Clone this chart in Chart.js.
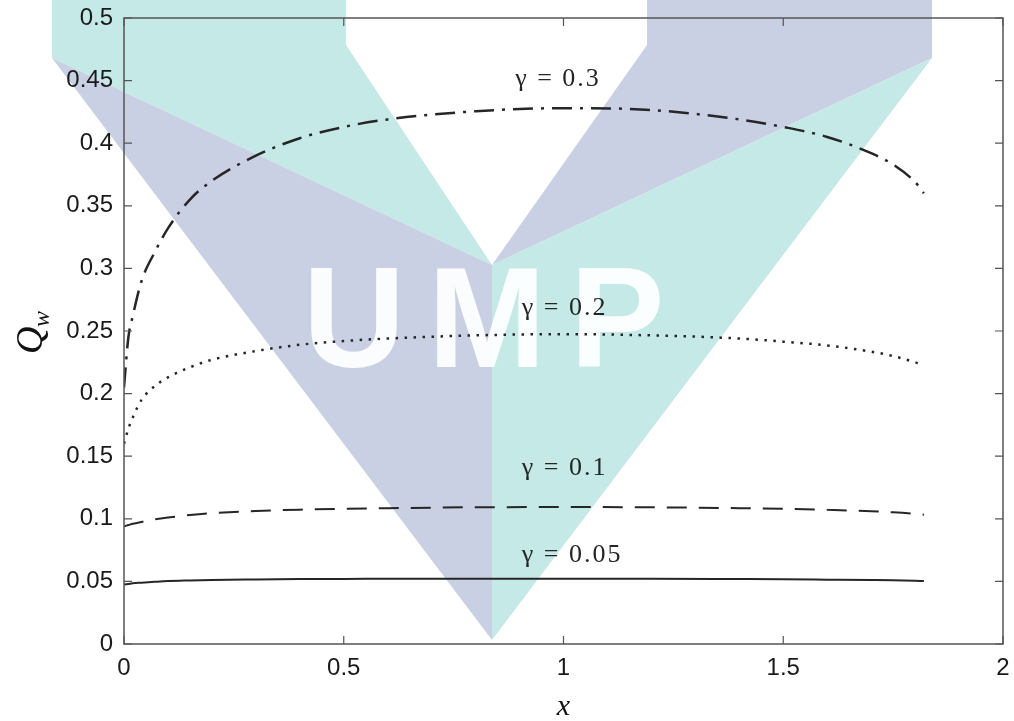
<!DOCTYPE html>
<html>
<head>
<meta charset="utf-8">
<script src="https://cdn.jsdelivr.net/npm/chart.js@4"></script>
<style>
  html, body { margin: 0; padding: 0; background: #fff; }
  #wrap { width: 1014px; height: 721px; }
</style>
</head>
<body>
<div id="wrap"><canvas id="c" width="1014" height="721"></canvas></div>
<script>
// x positions along the channel (shared by all curves)
const xs = [0, 0.01, 0.02, 0.04, 0.07, 0.1, 0.15, 0.2, 0.3, 0.4, 0.5, 0.6, 0.8, 1.0, 1.2, 1.4, 1.5, 1.6, 1.7, 1.75, 1.8, 1.82];

// Q_w for each gamma
const q030 = [0.205, 0.245, 0.262, 0.290, 0.313, 0.332, 0.355, 0.370, 0.390, 0.404, 0.413, 0.419, 0.4255, 0.428, 0.4265, 0.419, 0.413, 0.405, 0.392, 0.383, 0.369, 0.360];
const q020 = [0.160, 0.172, 0.181, 0.195, 0.206, 0.213, 0.221, 0.227, 0.234, 0.239, 0.242, 0.244, 0.2465, 0.2475, 0.2465, 0.244, 0.2415, 0.2385, 0.2335, 0.230, 0.225, 0.2225];
const q010 = [0.094, 0.095, 0.096, 0.0975, 0.0995, 0.101, 0.103, 0.1045, 0.1062, 0.1073, 0.108, 0.1085, 0.1092, 0.1094, 0.1092, 0.1085, 0.108, 0.1072, 0.106, 0.1052, 0.104, 0.1033];
const q005 = [0.0475, 0.048, 0.0485, 0.049, 0.0497, 0.0503, 0.0508, 0.0512, 0.0516, 0.0519, 0.052, 0.0521, 0.0522, 0.0522, 0.0522, 0.0519, 0.0517, 0.0514, 0.0511, 0.0509, 0.0505, 0.0503];

const gammaLabels = ['γ = 0.3', 'γ = 0.2', 'γ = 0.1', 'γ = 0.05'];
const labelAt = [[0.89, 0.446], [0.905, 0.263], [0.905, 0.135], [0.905, 0.0655]];

const xTicks = [0, 0.5, 1, 1.5, 2];
const yTicks = [0, 0.05, 0.1, 0.15, 0.2, 0.25, 0.3, 0.35, 0.4, 0.45, 0.5];

const ink = '#262626';
const pts = ys => xs.map((x, i) => ({ x, y: ys[i] }));

// faint university watermark behind the plot
const watermark = {
  id: 'watermark',
  beforeDraw(chart) {
    const ctx = chart.ctx;
    const teal = 'rgb(196,233,231)', lav = 'rgb(202,208,228)';
    const poly = (c, p) => {
      ctx.fillStyle = c;
      ctx.beginPath();
      ctx.moveTo(p[0][0], p[0][1]);
      p.slice(1).forEach(q => ctx.lineTo(q[0], q[1]));
      ctx.closePath();
      ctx.fill();
    };
    ctx.save();
    ctx.fillStyle = '#fff';
    ctx.fillRect(0, 0, chart.width, chart.height);
    poly(teal, [[52, 0], [346, 0], [346, 45], [492, 265], [52, 58]]);
    poly(lav, [[52, 58], [492, 265], [492, 640]]);
    poly(lav, [[647, 0], [932, 0], [932, 58], [492, 265], [647, 45]]);
    poly(teal, [[932, 58], [492, 265], [492, 640]]);
    ctx.fillStyle = 'rgba(255,255,255,0.93)';
    ctx.font = 'bold 142px "Liberation Sans", Arial, sans-serif';
    ctx.textBaseline = 'alphabetic';
    ctx.textAlign = 'center';
    ctx.fillText('U', 354, 367);
    ctx.fillText('M', 487, 367);
    ctx.fillText('P', 617, 367);
    ctx.restore();
  }
};

// MATLAB-like box, inward ticks, curve labels and axis titles
const decor = {
  id: 'decor',
  afterDraw(chart) {
    const { ctx, chartArea: a, scales: { x, y } } = chart;
    ctx.save();
    ctx.strokeStyle = '#555';
    ctx.lineWidth = 1.5;
    ctx.strokeRect(a.left, a.top, a.right - a.left, a.bottom - a.top);
    ctx.lineWidth = 1.2;
    ctx.beginPath();
    xTicks.forEach(v => {
      const px = x.getPixelForValue(v);
      ctx.moveTo(px, a.bottom); ctx.lineTo(px, a.bottom - 8);
      ctx.moveTo(px, a.top); ctx.lineTo(px, a.top + 8);
    });
    yTicks.forEach(v => {
      const py = y.getPixelForValue(v);
      ctx.moveTo(a.left, py); ctx.lineTo(a.left + 8, py);
      ctx.moveTo(a.right, py); ctx.lineTo(a.right - 8, py);
    });
    ctx.stroke();

    ctx.fillStyle = ink;
    ctx.font = '26px "Liberation Serif", "Times New Roman", serif';
    ctx.letterSpacing = '2px';
    ctx.textAlign = 'left';
    ctx.textBaseline = 'alphabetic';
    gammaLabels.forEach((t, i) => {
      ctx.fillText(t, x.getPixelForValue(labelAt[i][0]), y.getPixelForValue(labelAt[i][1]));
    });
    ctx.letterSpacing = '0px';

    ctx.fillStyle = '#111';
    ctx.textAlign = 'center';
    ctx.font = 'italic 30px "Liberation Serif", "Times New Roman", serif';
    ctx.fillText('x', x.getPixelForValue(1), 715);

    ctx.translate(42, 332);
    ctx.rotate(-Math.PI / 2);
    ctx.textAlign = 'left';
    ctx.font = 'italic 38px "Liberation Serif", "Times New Roman", serif';
    ctx.fillText('Q', -22, 0);
    ctx.font = 'italic 24px "Liberation Serif", "Times New Roman", serif';
    ctx.fillText('w', 5, 7);
    ctx.restore();
  }
};

const line = (data, dash, width) => ({
  data: pts(data),
  borderColor: ink,
  borderWidth: width,
  borderDash: dash,
  pointRadius: 0,
  cubicInterpolationMode: 'monotone',
  fill: false
});

const tickFont = { family: '"Liberation Sans", Arial, sans-serif', size: 24 };

new Chart(document.getElementById('c'), {
  type: 'line',
  data: {
    datasets: [
      line(q030, [20, 8, 3, 8], 2.5),
      line(q020, [2.5, 6.5], 2.5),
      line(q010, [20, 12], 2),
      line(q005, [], 2)
    ]
  },
  options: {
    responsive: false,
    animation: false,
    layout: { padding: { top: 18, right: 11, left: 0, bottom: 0 } },
    plugins: { legend: { display: false }, tooltip: { enabled: false } },
    scales: {
      x: {
        type: 'linear',
        min: 0, max: 2,
        afterFit: s => { s.height = 77; s.paddingLeft = 0; s.paddingRight = 0; },
        afterBuildTicks: s => { s.ticks = xTicks.map(value => ({ value })); },
        grid: { display: false, drawTicks: false },
        border: { display: false },
        ticks: {
          padding: 10,
          color: '#1a1a1a',
          font: tickFont,
          callback: v => String(+v.toFixed(2))
        }
      },
      y: {
        type: 'linear',
        min: 0, max: 0.5,
        afterFit: s => { s.width = 124; s.paddingTop = 0; s.paddingBottom = 0; },
        afterBuildTicks: s => { s.ticks = yTicks.map(value => ({ value })); },
        grid: { display: false, drawTicks: false },
        border: { display: false },
        ticks: {
          padding: 11,
          color: '#1a1a1a',
          font: tickFont,
          callback: v => String(+v.toFixed(2))
        }
      }
    }
  },
  plugins: [watermark, decor]
});
</script>
</body>
</html>
